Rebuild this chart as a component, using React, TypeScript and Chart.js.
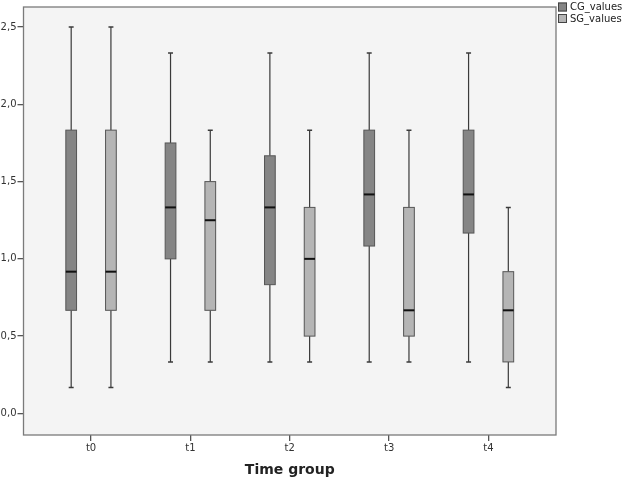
import React, { useEffect, useRef } from "react";
import { Chart, registerables } from "chart.js";

Chart.register(...registerables);

const categories = ["t0", "t1", "t2", "t3", "t4"];
const seriesNames = ["CG_values", "SG_values"];

// CG box-plot statistics
const cgMin = [0.167, 0.333, 0.333, 0.333, 0.333];
const cgQ1 = [0.667, 1.0, 0.833, 1.083, 1.167];
const cgMedian = [0.917, 1.333, 1.333, 1.417, 1.417];
const cgQ3 = [1.833, 1.75, 1.667, 1.833, 1.833];
const cgMax = [2.5, 2.333, 2.333, 2.333, 2.333];

// SG box-plot statistics
const sgMin = [0.167, 0.333, 0.333, 0.333, 0.167];
const sgQ1 = [0.667, 0.667, 0.5, 0.5, 0.333];
const sgMedian = [0.917, 1.25, 1.0, 0.667, 0.667];
const sgQ3 = [1.833, 1.5, 1.333, 1.333, 0.917];
const sgMax = [2.5, 1.833, 1.833, 1.833, 1.333];

const yTicks = [0, 0.5, 1.0, 1.5, 2.0, 2.5];

const FONT = "'DejaVu Sans', sans-serif";

const series = [
  { name: seriesNames[0], min: cgMin, q1: cgQ1, med: cgMedian, q3: cgQ3, max: cgMax, fill: "#858585", offset: -0.2 },
  { name: seriesNames[1], min: sgMin, q1: sgQ1, med: sgMedian, q3: sgQ3, max: sgMax, fill: "#b5b5b5", offset: 0.2 },
];

const boxPlugin = {
  id: "boxplots",
  beforeDraw(chart: any) {
    const { ctx, chartArea } = chart;
    ctx.save();
    ctx.fillStyle = "#f4f4f4";
    ctx.fillRect(chartArea.left, chartArea.top, chartArea.right - chartArea.left, chartArea.bottom - chartArea.top);
    ctx.restore();
  },
  afterDatasetsDraw(chart: any) {
    const { ctx, chartArea } = chart;
    const xs = chart.scales.x;
    const ys = chart.scales.y;
    const halfW = 0.054;
    const capW = 0.025;
    ctx.save();
    series.forEach((s) => {
      categories.forEach((_, i) => {
        const xc = xs.getPixelForValue(i + s.offset);
        const xl = xs.getPixelForValue(i + s.offset - halfW);
        const xr = xs.getPixelForValue(i + s.offset + halfW);
        const cl = xs.getPixelForValue(i + s.offset - capW);
        const cr = xs.getPixelForValue(i + s.offset + capW);
        const yMin = ys.getPixelForValue(s.min[i]);
        const yQ1 = ys.getPixelForValue(s.q1[i]);
        const yMed = ys.getPixelForValue(s.med[i]);
        const yQ3 = ys.getPixelForValue(s.q3[i]);
        const yMax = ys.getPixelForValue(s.max[i]);
        // whiskers
        ctx.strokeStyle = "#3a3a3a";
        ctx.lineWidth = 1.2;
        ctx.beginPath();
        ctx.moveTo(xc, yMax);
        ctx.lineTo(xc, yQ3);
        ctx.moveTo(xc, yQ1);
        ctx.lineTo(xc, yMin);
        ctx.stroke();
        ctx.lineWidth = 1.5;
        ctx.beginPath();
        ctx.moveTo(cl, yMax);
        ctx.lineTo(cr, yMax);
        ctx.moveTo(cl, yMin);
        ctx.lineTo(cr, yMin);
        ctx.stroke();
        // box
        ctx.fillStyle = s.fill;
        ctx.fillRect(xl, yQ3, xr - xl, yQ1 - yQ3);
        ctx.strokeStyle = "#555555";
        ctx.lineWidth = 1;
        ctx.strokeRect(xl, yQ3, xr - xl, yQ1 - yQ3);
        // median
        ctx.strokeStyle = "#111111";
        ctx.lineWidth = 2;
        ctx.beginPath();
        ctx.moveTo(xl, yMed);
        ctx.lineTo(xr, yMed);
        ctx.stroke();
      });
    });
    // frame
    ctx.strokeStyle = "#7a7a7a";
    ctx.lineWidth = 1.3;
    ctx.strokeRect(chartArea.left, chartArea.top, chartArea.right - chartArea.left, chartArea.bottom - chartArea.top);
    // legend
    ctx.font = "10px " + FONT;
    ctx.textBaseline = "middle";
    ctx.textAlign = "left";
    series.forEach((s, k) => {
      const bx = chartArea.right + 2;
      const by = 2.5 + k * 11.5;
      ctx.fillStyle = s.fill;
      ctx.fillRect(bx, by, 9, 9);
      ctx.strokeStyle = "#444444";
      ctx.lineWidth = 1;
      ctx.strokeRect(bx + 0.5, by + 0.5, 8, 8);
      ctx.fillStyle = "#222222";
      ctx.fillText(s.name, bx + 12, by + 5);
    });
    ctx.restore();
  },
};

export default function App() {
  const ref = useRef<HTMLCanvasElement | null>(null);
  useEffect(() => {
    document.body.style.margin = "0";
    if (!ref.current) return;
    const chart = new Chart(ref.current, {
      type: "scatter",
      data: {
        datasets: series.map((s) => ({
          label: s.name,
          data: categories.map((_, i) => ({ x: i + s.offset, y: s.med[i] })),
          pointRadius: 0,
          backgroundColor: s.fill,
        })),
      },
      options: {
        animation: false,
        responsive: false,
        layout: { padding: { top: 1.5, right: 66, left: 0, bottom: 0 } },
        plugins: { legend: { display: false }, tooltip: { enabled: false } },
        scales: {
          x: {
            type: "linear",
            min: -0.68,
            max: 4.68,
            afterBuildTicks: (scale: any) => {
              scale.ticks = categories.map((_, i) => ({ value: i }));
            },
            afterFit: (scale: any) => {
              scale.height = 45;
            },
            ticks: {
              callback: (v: any) => categories[Math.round(Number(v))] ?? "",
              font: { family: FONT, size: 10 },
              color: "#333333",
              padding: 1,
              maxRotation: 0,
            },
            grid: { drawOnChartArea: false, drawTicks: true, tickLength: 6, color: "#555555", lineWidth: 1.3 },
            border: { display: false },
            title: {
              display: true,
              text: "Time group",
              font: { family: FONT, size: 14, weight: "bold" },
              color: "#222222",
              padding: { top: 0, bottom: 0.8 },
            },
          },
          y: {
            type: "linear",
            min: -0.14,
            max: 2.63,
            afterBuildTicks: (scale: any) => {
              scale.ticks = yTicks.map((v) => ({ value: v }));
            },
            afterFit: (scale: any) => {
              scale.width = 23.5;
            },
            ticks: {
              callback: (v: any) => Number(v).toFixed(1).replace(".", ","),
              font: { family: FONT, size: 10 },
              color: "#333333",
              padding: 1,
            },
            grid: { drawOnChartArea: false, drawTicks: true, tickLength: 6, color: "#555555", lineWidth: 1.3 },
            border: { display: false },
          },
        },
      },
      plugins: [boxPlugin],
    } as any);
    return () => chart.destroy();
  }, []);
  return (
    <div style={{ width: 622, height: 480 }}>
      <canvas ref={ref} width={622} height={480} style={{ width: 622, height: 480, display: "block" }} />
    </div>
  );
}
